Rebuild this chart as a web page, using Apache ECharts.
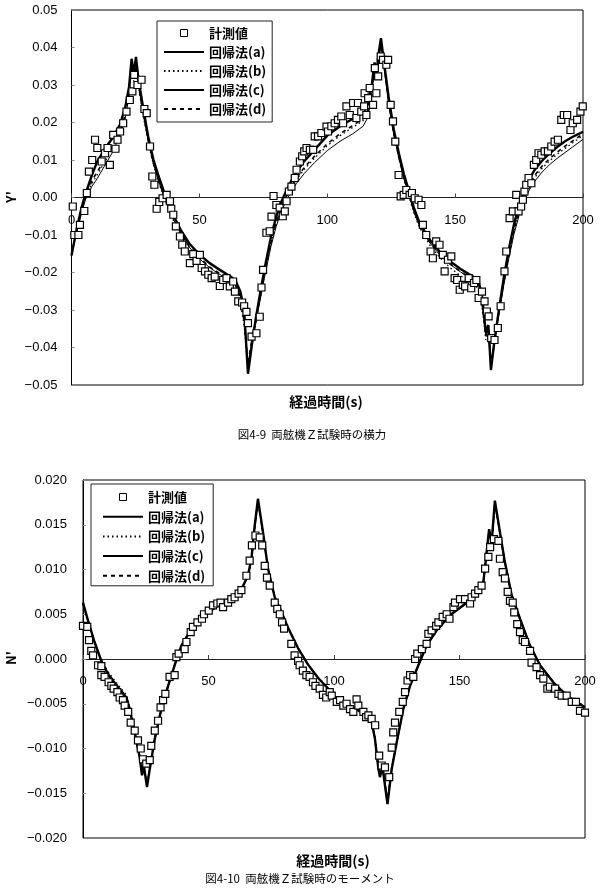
<!DOCTYPE html>
<html><head><meta charset="utf-8">
<script src="https://cdn.jsdelivr.net/npm/echarts@6/dist/echarts.min.js"></script>
<style>html,body{margin:0;padding:0;background:#fff}#c{width:600px;height:896px}</style>
</head><body><div id="c"></div>
<script>
// ---------- Top chart (Y') ----------
const topMeasT = [0.5,1.1,2.7,3.3,5,6,6.8,8.1,9.2,10.1,11.8,13.1,14.1,15,16.3,17.2,18,19,20.2,21.5,22.8,23.8,24.5,25.8,27.4,28.5,29.4,30.7,31.6,32.4,33.3,34.3,35.6,37.2,38.5,39,39.8,40.8,42.4,43.3,44.3,46.3,47.6,48.9,50.2,50.9,52.2,53.5,54.8,56,58,59.3,60.6,61.9,63.2,63.9,65.2,66.7,67.5,68.4,69,70.4,72.3,73.6,74.3,74.9,76.2,77.5,78.2,79,80.1,81.4,82.6,83.4,84.1,85,86,87.3,88,89.3,90.2,91,91.9,93.2,94.5,95.1,96.4,97.7,99.7,
100.3,101.6,102.9,104.2,105.5,106.2,107.5,108.8,110.1,111.4,112,113.3,114.4,114.6,115.3,116,116.6,117.9,118.6,119.2,119.9,120.9,121.8,123.1,123.8,124.8,125.7,126.6,127.9,128.7,129.9,130.9,132.2,133.1,134.2,135.7,136.8,137.4,138.7,140.4,141.3,142.6,143.9,145.2,145.9,147.2,148.5,149.8,150.8,151.8,153,153.9,155.3,156.3,157.4,158.3,159.2,160.5,161.5,162.4,163.1,164.1,165.4,166.7,167.8,169.3,170,171.3,172.6,173.9,174.8,175.8,176.5,177.1,177.8,178.7,179.8,180.8,181.7,182.6,183.7,185,186.3,187.6,188.9,190.2,191.5,192.5,193.8,195.1,196,197.7,199,199.9];
const topMeasY = [-0.0024,-0.010,-0.010,-0.0073,-0.0036,0.0012,0.0069,0.010,0.0154,0.0132,0.0096,0.0118,0.0132,0.0087,0.0167,0.013,0.0154,0.0176,0.0198,0.0229,0.026,0.0283,0.0327,0.030,0.0314,0.0236,0.0225,0.0136,0.0056,0.0034,-0.003,-0.0012,-0.0002,0.0007,-0.001,-0.003,-0.0046,-0.0077,-0.0104,-0.0126,-0.0144,-0.0175,-0.0151,-0.0169,-0.0153,-0.0188,-0.0197,-0.0206,-0.0215,-0.0211,-0.0236,-0.022,-0.0215,-0.0237,-0.0224,-0.0251,-0.0277,-0.028,-0.029,-0.0305,-0.0335,-0.0371,-0.0362,-0.0318,-0.024,-0.0193,-0.0094,-0.009,-0.0051,0.0004,-0.002,-0.0027,-0.005,-0.0037,-0.001,0.0016,0.0029,0.0052,0.0074,0.0096,0.011,0.0123,0.0132,0.0127,0.0127,0.0163,0.0163,0.0172,0.0189,
0.0176,0.019,0.0198,0.0207,0.0216,0.0198,0.0243,0.022,0.0252,0.0212,0.0252,0.0229,0.0243,0.0278,0.022,0.0265,0.0292,0.0247,0.0345,0.0278,0.0323,0.0376,0.0367,0.0354,0.0367,0.0247,0.0203,0.0149,0.006,0.0003,0.0007,0.002,0.0007,0.0012,-0.0002,-0.0006,-0.002,-0.0073,-0.010,-0.0144,-0.0162,-0.0117,-0.0126,-0.0153,-0.0197,-0.0166,-0.0157,-0.0215,-0.022,-0.0246,-0.0233,-0.0237,-0.0215,-0.0242,-0.0228,-0.022,-0.0268,-0.0251,-0.0277,-0.0304,-0.0317,-0.0375,-0.038,-0.0348,-0.029,-0.0197,-0.0144,-0.0055,-0.0037,0.0007,-0.0037,-0.0024,-0.0006,0.0016,0.0034,0.0052,0.0038,0.0087,0.010,0.0118,0.0114,0.0123,0.0123,0.0136,0.0149,0.0154,0.0207,0.022,0.022,0.018,0.0198,0.0207,0.0229,0.0243];

const topLineT = [0,2,4,5.5,8,10,13,16,19,21,22.5,23.5,24.3,25.2,26.2,28,30,32,34,36,38,40,43,46,50,54,58,62,64,66,67.5,69,70.5,72,74,76,78,80,82,84,86,88,91,95,100,105,110,114,116,117.5,118.5,119.3,120,121,122.5,124,126,128,130,132,134,136,140,144,148,152,156,159,160.5,162,163,164,165.5,167,169,171,173,175,177,179,181,184,187,190,193,196,200];
const topLineA = [-0.015,-0.0095,-0.004,-0.0005,0.003,0.005,0.0085,0.012,0.0165,0.021,0.027,0.0355,0.032,0.036,0.03,0.0225,0.015,0.009,0.0045,0.0005,-0.003,-0.006,-0.0098,-0.0132,-0.0163,-0.0187,-0.0205,-0.0222,-0.0232,-0.0262,-0.032,-0.045,-0.0385,-0.0335,-0.0265,-0.0195,-0.013,-0.0078,-0.0038,-0.0008,0.0017,0.0038,0.0064,0.0093,0.0125,0.015,0.017,0.019,0.0215,0.028,0.035,0.032,0.036,0.0405,0.033,0.025,0.0168,0.0105,0.005,0.0005,-0.004,-0.0075,-0.012,-0.0153,-0.0178,-0.0198,-0.0215,-0.0228,-0.0272,-0.037,-0.035,-0.0445,-0.038,-0.0318,-0.0235,-0.0162,-0.0098,-0.0048,-0.001,0.002,0.0042,0.0068,0.0088,0.0105,0.012,0.0135,0.0155];
const topLineB = [-0.0145,-0.009,-0.0035,0.0,0.0038,0.006,0.0095,0.013,0.0172,0.0215,0.0275,0.035,0.031,0.0345,0.0295,0.022,0.0148,0.0088,0.0043,0.0002,-0.0033,-0.0064,-0.0105,-0.014,-0.0172,-0.0198,-0.0218,-0.0238,-0.025,-0.0282,-0.034,-0.046,-0.039,-0.0335,-0.026,-0.0188,-0.0122,-0.007,-0.003,0.0,0.0026,0.0048,0.0075,0.0105,0.0138,0.0165,0.0187,0.0205,0.0228,0.029,0.036,0.033,0.037,0.041,0.0335,0.0255,0.017,0.0105,0.0048,0.0002,-0.0043,-0.0079,-0.0126,-0.016,-0.0187,-0.0208,-0.0226,-0.0242,-0.029,-0.038,-0.0355,-0.045,-0.0385,-0.0315,-0.023,-0.0155,-0.009,-0.004,-0.0002,0.0028,0.0052,0.0078,0.0098,0.0116,0.0131,0.0146,0.0165];
const topLineC = [-0.0155,-0.0085,-0.0025,0.001,0.006,0.0095,0.013,0.0158,0.0195,0.024,0.0295,0.037,0.033,0.0375,0.0315,0.024,0.0162,0.0102,0.0058,0.0018,-0.0018,-0.005,-0.009,-0.0122,-0.0152,-0.0175,-0.0193,-0.021,-0.022,-0.025,-0.03,-0.047,-0.0395,-0.0325,-0.0245,-0.0172,-0.0105,-0.0052,-0.0012,0.0018,0.0045,0.0068,0.0097,0.0127,0.0165,0.019,0.021,0.0228,0.025,0.0305,0.036,0.0335,0.038,0.0425,0.0345,0.0268,0.0182,0.0118,0.0062,0.0016,-0.003,-0.0066,-0.0112,-0.0145,-0.017,-0.019,-0.0207,-0.0218,-0.0262,-0.036,-0.034,-0.046,-0.0375,-0.0305,-0.0215,-0.0138,-0.0072,-0.002,0.0017,0.0048,0.0073,0.0098,0.0118,0.0135,0.015,0.0162,0.0175];
const topLineD = [-0.015,-0.009,-0.003,0.0,0.0045,0.0068,0.01,0.0135,0.0178,0.022,0.028,0.035,0.032,0.035,0.0298,0.0228,0.0152,0.0092,0.0048,0.0008,-0.0027,-0.0058,-0.0098,-0.013,-0.016,-0.0185,-0.0203,-0.022,-0.0232,-0.0265,-0.033,-0.044,-0.038,-0.033,-0.0255,-0.0185,-0.012,-0.0066,-0.0026,0.0004,0.003,0.0052,0.008,0.011,0.0143,0.017,0.0192,0.021,0.0232,0.029,0.0355,0.0325,0.0365,0.041,0.0335,0.0255,0.017,0.0108,0.0052,0.0006,-0.0038,-0.0073,-0.0118,-0.0152,-0.0177,-0.0197,-0.0214,-0.0228,-0.0278,-0.0368,-0.0348,-0.0445,-0.038,-0.031,-0.0225,-0.015,-0.0086,-0.0035,0.0004,0.0033,0.0058,0.0084,0.0104,0.0121,0.0137,0.0151,0.017];

// ---------- Bottom chart (N') ----------
const botMeasT = [0,1.7,2.4,3.3,4,6,7.3,7.3,8.6,10.2,11.3,12.2,13.7,14.6,15.9,16.6,18,19,20.6,21.9,23,23.9,25.2,26.6,27.2,28.6,29.9,30.9,31.9,32.8,34.5,36.5,37.2,38.1,40.5,41.2,42.9,43.8,45.6,47.4,48.2,50.1,51.8,53.5,54.8,55.8,57.8,59.1,60.4,62,63.1,65.1,66.4,67.3,68.7,70.4,71.4,72.4,73.3,74.4,76.4,77.4,78.4,79.3,80.1,83,84.3,85.7,86.3,87.6,89,90.3,91.6,92.6,94.3,95.6,96.9,98.3,
99.1,101.1,102.4,103.7,105,106.4,107.7,109,109.7,111.7,112.8,113.7,115,116.4,118,119,120.3,122,123,123.6,124.3,126,127.4,128.3,129.3,130.3,131.6,132.3,133.2,135,136.9,137.6,138.9,140.7,141.6,143.3,144.9,146,147.6,148.2,150.2,152.2,154.2,154.8,156.2,157.5,158.8,160.2,161.5,162.2,163.7,165.5,166.1,167.2,168.1,169.2,170.1,171.2,171.8,173,174.1,175.2,176.1,178.1,178.7,180.7,182.1,183.4,185,186,188.1,189.4,190.7,192.7,194.7,196.4,198,200];
const botMeasY = [0.0037,0.0036,0.0021,0.0009,0.0004,-0.0007,-0.0008,-0.0018,-0.002,-0.0026,-0.003,-0.0033,-0.0037,-0.0043,-0.0046,-0.0052,-0.0059,-0.0071,-0.008,-0.0091,-0.010,-0.0112,-0.0117,-0.0113,-0.0097,-0.008,-0.0069,-0.0054,-0.0046,-0.0039,-0.002,-0.0018,0.0002,0.0006,0.0011,0.0019,0.003,0.0036,0.0041,0.0045,0.005,0.0054,0.006,0.0062,0.0063,0.0058,0.0063,0.0067,0.0069,0.0073,0.0077,0.0093,0.011,0.0127,0.0138,0.0136,0.0127,0.0104,0.0091,0.0082,0.0063,0.0056,0.005,0.0041,0.0034,0.0017,0.0004,-0.0002,-0.0007,-0.0013,-0.0018,-0.002,-0.0026,-0.003,-0.0033,-0.004,-0.0043,-0.0037,
-0.0041,-0.0048,-0.0046,-0.0052,-0.005,-0.0056,-0.0059,-0.0045,-0.0052,-0.0059,-0.0065,-0.0063,-0.0067,-0.0074,-0.0108,-0.0119,-0.0121,-0.0132,-0.0099,-0.0082,-0.0071,-0.0059,-0.0048,-0.0037,-0.0024,-0.0018,-0.002,0.0,0.0006,0.0011,0.0017,0.0028,0.0032,0.0037,0.0041,0.0047,0.005,0.0045,0.0058,0.0063,0.0067,0.0067,0.0062,0.0069,0.0073,0.0077,0.0082,0.0101,0.0114,0.0125,0.0134,0.0132,0.0112,0.0097,0.009,0.0075,0.0065,0.0063,0.0052,0.0039,0.003,0.0021,0.0019,0.0009,-0.0004,-0.0009,-0.0018,-0.0022,-0.0033,-0.0031,-0.0033,-0.0039,-0.0041,-0.0041,-0.0048,-0.0048,-0.0058,-0.006];

const botLineT = [0,2,4.6,7.3,10,14,17.3,18.6,20.6,22.6,23.5,24.2,25.5,26.6,28.6,31.2,33.9,36.5,39.2,43.2,48.5,53.8,59.1,63.1,65.7,67.1,68.4,69.7,71.7,73.7,76.4,79,81.7,85.7,89.6,93.6,97.6,100,103.7,108.9,112.9,115,116.3,117.7,118.3,119.3,121.3,123,125,127.6,130.3,133.6,136.9,140.9,146.2,151.5,156.9,159.5,160.8,161.8,162.8,164.1,166.1,168.1,170.8,174.1,178.1,182.1,187.4,192.7,200];
const botLineA = [0.0062,0.0042,0.0018,-0.0003,-0.0018,-0.0033,-0.0044,-0.0057,-0.0083,-0.0111,-0.0128,-0.0118,-0.014,-0.0122,-0.009,-0.0057,-0.0031,-0.0008,0.0014,0.0033,0.0048,0.0059,0.0068,0.0077,0.0092,0.0111,0.0146,0.0176,0.0141,0.0101,0.0069,0.0053,0.0035,0.0012,-0.0006,-0.0021,-0.0033,-0.0042,-0.0048,-0.0056,-0.0063,-0.007,-0.0088,-0.0121,-0.013,-0.0119,-0.0159,-0.0122,-0.0093,-0.0057,-0.0031,-0.0008,0.0014,0.0031,0.0048,0.0059,0.007,0.0085,0.0117,0.0143,0.0129,0.0174,0.0141,0.0107,0.0071,0.0045,0.0015,-0.0007,-0.0026,-0.0041,-0.0054];
const botLineB = [0.0061,0.0041,0.0018,-0.0001,-0.0014,-0.0029,-0.004,-0.0054,-0.008,-0.0108,-0.0127,-0.0117,-0.0139,-0.012,-0.0088,-0.0055,-0.003,-0.0007,0.0015,0.0034,0.0049,0.006,0.0069,0.0078,0.0092,0.011,0.0145,0.0174,0.014,0.01,0.0068,0.0052,0.0034,0.0012,-0.0006,-0.002,-0.0032,-0.0041,-0.0047,-0.0055,-0.0062,-0.0069,-0.0087,-0.012,-0.0129,-0.0118,-0.0158,-0.0121,-0.0092,-0.0056,-0.003,-0.0007,0.0015,0.0032,0.0049,0.006,0.007,0.0085,0.0117,0.0142,0.0128,0.0173,0.014,0.0107,0.0071,0.0045,0.0015,-0.0007,-0.0026,-0.004,-0.0053];
const botLineC = [0.0063,0.0043,0.0019,-0.0002,-0.0017,-0.0032,-0.0043,-0.0056,-0.0082,-0.011,-0.013,-0.0119,-0.0143,-0.0123,-0.0089,-0.0056,-0.003,-0.0007,0.0015,0.0034,0.0049,0.006,0.0069,0.0078,0.0093,0.0112,0.0149,0.0179,0.0142,0.0101,0.0069,0.0053,0.0035,0.0012,-0.0006,-0.0021,-0.0033,-0.0042,-0.0048,-0.0056,-0.0063,-0.007,-0.0089,-0.0123,-0.0132,-0.012,-0.0162,-0.0123,-0.0093,-0.0056,-0.003,-0.0007,0.0015,0.0032,0.0049,0.006,0.0071,0.0086,0.0119,0.0145,0.013,0.0177,0.0142,0.0108,0.0071,0.0045,0.0015,-0.0007,-0.0026,-0.0041,-0.0054];
const botLineD = [0.0062,0.0043,0.0019,-0.0002,-0.0016,-0.0031,-0.0042,-0.0055,-0.0081,-0.0109,-0.0129,-0.0118,-0.0141,-0.0122,-0.0089,-0.0056,-0.003,-0.0007,0.0015,0.0034,0.0049,0.006,0.0069,0.0078,0.0093,0.0111,0.0147,0.0177,0.0141,0.0101,0.0069,0.0053,0.0035,0.0012,-0.0006,-0.0021,-0.0033,-0.0042,-0.0048,-0.0056,-0.0063,-0.007,-0.0088,-0.0122,-0.0131,-0.0119,-0.016,-0.0122,-0.0093,-0.0056,-0.003,-0.0007,0.0015,0.0032,0.0049,0.006,0.0071,0.0086,0.0118,0.0144,0.0129,0.0175,0.0141,0.0108,0.0071,0.0045,0.0015,-0.0007,-0.0026,-0.0041,-0.0054];

const seriesNames = ['計測値','回帰法(a)','回帰法(b)','回帰法(c)','回帰法(d)'];
const xTitle = '経過時間(s)';
const topYName = "Y'";
const botYName = "N'";
const topCaption = '図4-9  両舷機Ｚ試験時の横力';
const botCaption = '図4-10  両舷機Ｚ試験時のモーメント';

// ---------- build ----------
const zip = (t, y) => t.map((v, i) => [v, y[i]]);
const NUM = '"Liberation Sans", Arial, sans-serif';
const JP = '"Noto Sans CJK JP", sans-serif';
const lineStyles = [
  {width: 1, type: 'solid'},
  {width: 1.3, type: [1.5, 3]},
  {width: 2.4, type: 'solid'},
  {width: 1.6, type: [4, 4]}
];
const minus = s => s.replace('-', '\u2212');
function xAxis(gi, off){
  return {type:'value', gridIndex:gi, min:0, max:200, interval:50, position:'bottom', offset:off,
    axisLine:{onZero:false, lineStyle:{color:'#222', width:1}},
    axisTick:{show:true, inside:true, length:4, lineStyle:{color:'#444'}},
    axisLabel:{margin:16, color:'#000', fontFamily:NUM, fontSize:13},
    splitLine:{show:false}};
}
function yAxis(gi, min, max, iv, dec, margin){
  return {type:'value', gridIndex:gi, min:min, max:max, interval:iv,
    axisLine:{show:true, onZero:false, lineStyle:{color:'#000', width:1}},
    axisTick:{show:true, inside:true, length:3, lineStyle:{color:'#888'}},
    axisLabel:{margin:margin, color:'#000', fontFamily:NUM, fontSize:13,
      formatter: v => minus(Number(v).toFixed(dec))},
    splitLine:{show:false}};
}
function lineSeries(gi, t, ys){
  return ys.map((y, k) => ({
    name: seriesNames[k+1], type:'line', xAxisIndex:gi, yAxisIndex:gi,
    data: zip(t, y), symbol:'none', showSymbol:false, smooth:false, z:2,
    color:'#000', itemStyle:{color:'#000'},
    lineStyle: Object.assign({color:'#000'}, lineStyles[k]), silent:true, animation:false
  }));
}
function scatter(gi, t, y){
  return {name: seriesNames[0], type:'scatter', xAxisIndex:gi, yAxisIndex:gi,
    data: zip(t, y), symbol:'rect', symbolSize:7, z:5, color:'#fff',
    itemStyle:{color:'#fff', borderColor:'#000', borderWidth:1.2, opacity:1}, animation:false};
}
function legend(left, top, pad, gap){
  return {orient:'vertical', left:left, top:top, padding:pad, itemGap:gap,
    itemWidth:40, itemHeight:7, symbolKeepAspect:true,
    backgroundColor:'#fff', borderColor:'#222', borderWidth:1,
    textStyle:{fontFamily:JP, fontSize:13, fontWeight:'bold', color:'#000', lineHeight:14},
    data: seriesNames.map((n, i) => i === 0
      ? {name:n, icon:'path://M0,0H10V10H0Z', itemStyle:{borderWidth:1}}
      : {name:n, icon:'inherit', itemStyle:{opacity:0}}),
    selectedMode:false};
}
function txt(x, y, s, size, weight, rot){
  return {type:'text', x:x, y:y, rotation: rot || 0, silent:true,
    style:{text:s, fontFamily: JP, fontSize:size, fontWeight:weight, fill:'#000',
      align:'center', verticalAlign:'middle'}};
}

const chart = echarts.init(document.getElementById('c'), null, {renderer:'canvas'});
chart.setOption({
  animation:false,
  backgroundColor:'#fff',
  grid:[
    {left:71.5, top:10, width:511.5, height:375, show:true, borderColor:'#000', borderWidth:1, backgroundColor:'transparent'},
    {left:83, top:480, width:502, height:358, show:true, borderColor:'#000', borderWidth:1, backgroundColor:'transparent'}
  ],
  xAxis:[xAxis(0, -187.5), xAxis(1, -179)],
  yAxis:[yAxis(0,-0.05,0.05,0.01,2,14), yAxis(1,-0.02,0.02,0.005,3,16)],
  legend:[legend(157,21,[5,6,6,6],5), legend(91,484,[6,8,3,11],5.7)],
  series:[].concat(
    lineSeries(0, topLineT, [topLineA, topLineB, topLineC, topLineD]),
    [scatter(0, topMeasT, topMeasY)],
    lineSeries(1, botLineT, [botLineA, botLineB, botLineC, botLineD]),
    [scatter(1, botMeasT, botMeasY)]
  ),
  graphic:[
    txt(11, 197, topYName, 13, 'bold', Math.PI/2),
    txt(326, 402, xTitle, 14, 'bold'),
    txt(312, 435, topCaption, 11.5, 'normal'),
    txt(11, 658, botYName, 13, 'bold', Math.PI/2),
    txt(333, 861, xTitle, 14, 'bold'),
    txt(300, 879, botCaption, 11.5, 'normal')
  ]
});
</script></body></html>
